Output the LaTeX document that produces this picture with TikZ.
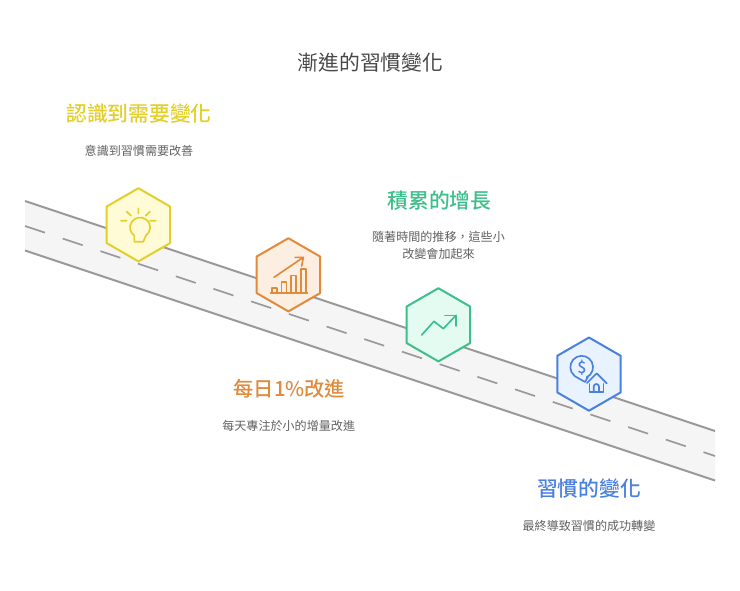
\documentclass[tikz,border=0pt]{standalone}
\usepackage{fontspec}
\setmainfont[Script=CJK,Language=Chinese Traditional,BoldFont={Noto Sans CJK TC Medium}]{Noto Sans CJK TC}
\definecolor{cyel}{HTML}{E3CF2A}\definecolor{fyel}{HTML}{FEFBD6}
\definecolor{cora}{HTML}{E08A3C}\definecolor{fora}{HTML}{FDEEE2}
\definecolor{cgre}{HTML}{3CBF8A}\definecolor{fgre}{HTML}{E4FBF1}
\definecolor{cblu}{HTML}{4A80E0}\definecolor{fblu}{HTML}{E9F2FF}
\definecolor{croad}{HTML}{999999}\definecolor{froad}{HTML}{F5F5F5}
\tikzset{
  titletext/.style={font=\fontsize{15.6pt}{18pt}\selectfont,text=black!72,inner sep=0pt},
  headtext/.style={font=\fontsize{15.6pt}{18pt}\selectfont\bfseries,inner sep=0pt},
  desctext/.style={font=\fontsize{9.05pt}{12.4pt}\selectfont,text=black!62,inner sep=0pt,align=center},
  roadline/.style={croad,line width=1.5pt},
  roaddash/.style={croad,line width=1.2pt,dash pattern=on 15.8pt off 14pt},
  hexa/.style={line width=1.5pt,line join=round},
  iconline/.style={line width=1.25pt,line cap=round,line join=round},
}
\newcommand{\hexat}[3]{\draw[hexa,draw=#2,fill=#3] (#1)
  ++(0,-36.3) -- ++(31.7,18.3) -- ++(0,36.6) -- ++(-31.7,18.3) -- ++(-31.7,-18.3) -- ++(0,-36.6) -- cycle;}
\begin{document}
\begin{tikzpicture}[x=0.75pt,y=-0.75pt]
\useasboundingbox (0,0) rectangle (740,590);
\fill[white] (0,0) rectangle (740,590);
% road
\coordinate (rtl) at (25,201); \coordinate (rtr) at (715,431);
\coordinate (rbl) at (25,250.5); \coordinate (rbr) at (715,480.5);
\coordinate (rml) at (25,226); \coordinate (rmr) at (715,456);
\fill[froad] (rtl) -- (rtr) -- (rbr) -- (rbl) -- cycle;
\draw[roadline] (rtl) -- (rtr);
\draw[roadline] (rbl) -- (rbr);
\draw[roaddash] (rml) -- (rmr);
% hexagons
\coordinate (h1) at (138.4,224.5);
\coordinate (h2) at (288.4,274.5);
\coordinate (h3) at (438.4,324.5);
\coordinate (h4) at (589,373.8);
\hexat{h1}{cyel}{fyel}
\hexat{h2}{cora}{fora}
\hexat{h3}{cgre}{fgre}
\hexat{h4}{cblu}{fblu}
% bulb
\begin{scope}[shift={(90,170)},x=.25pt,y=-.25pt,iconline,draw=cyel]
\draw (133,215) -- (133,197) arc[start angle=235,end angle=-55,radius=7.5pt] -- (160,215) -- cycle;
\draw (145,115)--(145,130) (110,125)--(123,137) (180,125)--(167,137) (93,152)--(110,152) (180,152)--(197,152);
\end{scope}
% chart
\begin{scope}[shift={(90,170)},x=.25pt,y=-.25pt,iconline,draw=cora]
\draw (552,322)--(640,262) (615,262)--(640,262)--(635,288);
\draw (542,369)--(652,369);
\draw (546,369)--(546,354)--(560,354)--(560,369);
\draw (574,369)--(574,335)--(589,335)--(589,369);
\draw (603,369)--(603,316)--(618,316)--(618,369);
\draw (632,369)--(632,297)--(647,297)--(647,369);
\end{scope}
% trend
\begin{scope}[shift={(390,280)},x=.25pt,y=-.25pt,iconline,draw=cgre]
\draw (95,165)--(132,124)--(160,146)--(198,106);
\draw (165,106)--(198,106)--(198,138);
\end{scope}
% money house
\begin{scope}[shift={(390,280)},x=.25pt,y=-.25pt,iconline,draw=cblu]
\draw (590,292) arc[start angle=-64,end angle=232,radius=8.5pt] -- (585,306) -- (596,287);
\node[text=cblu,inner sep=0pt,font=\fontsize{12pt}{12pt}\selectfont\bfseries] (dollar) at (576,262) {\$};
\draw (591,309)--(620,280)--(650,310);
\draw (598,312)--(598,336)--(640,336)--(640,312);
\draw (611,336)--(611,320) arc[start angle=180,end angle=0,radius=2pt] -- (627,336);
\end{scope}
% texts
\node[titletext] (title) at (370.5,63) {漸進的習慣變化};
\node[headtext,text=cyel] (h1t) at (139,113.5) {認識到需要變化};
\node[desctext] (d1) at (139,151) {意識到習慣需要改善};
\node[headtext,text=cgre] (h3t) at (439.5,201) {積累的增長};
\node[desctext] (d3) at (438.5,245.5) {隨著時間的推移，這些小\\改變會加起來};
\node[headtext,text=cora,font=\fontsize{15.2pt}{18pt}\selectfont\bfseries] (h2t) at (289.3,389) {每日1\%改進};
\node[desctext] (d2) at (288.7,426) {每天專注於小的增量改進};
\node[headtext,text=cblu] (h4t) at (589,489) {習慣的變化};
\node[desctext] (d4) at (589,526) {最終導致習慣的成功轉變};
\end{tikzpicture}
\end{document}
